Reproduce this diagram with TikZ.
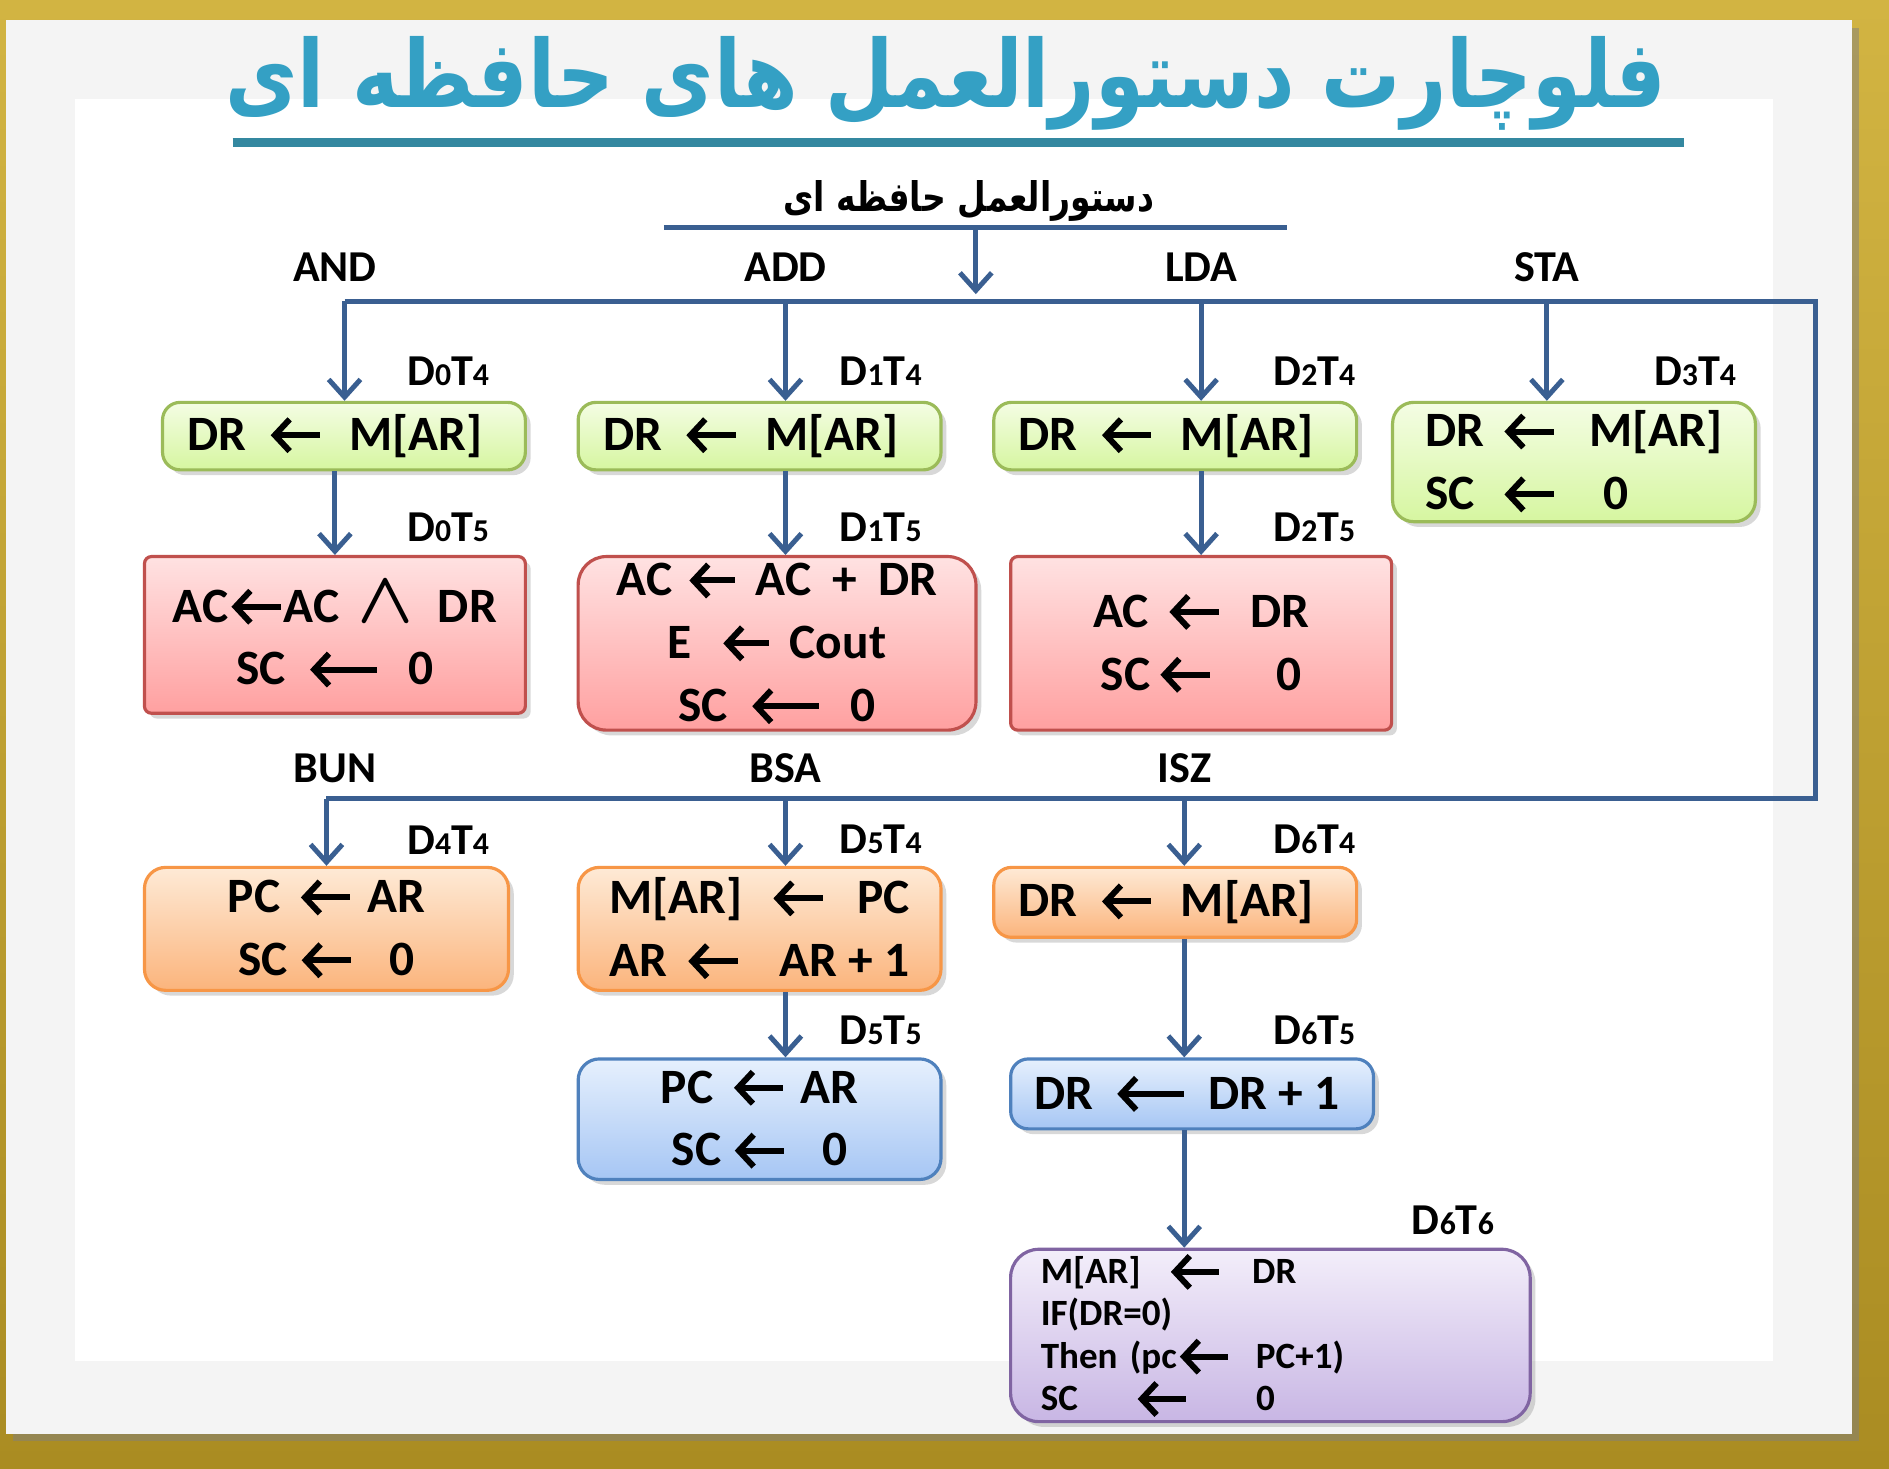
\documentclass[tikz,border=0pt]{standalone}
\usepackage{fontspec}
\usepackage{amsmath}
\usepackage{graphicx}
\setmainfont{Carlito}
\newfontfamily\arabicfont[Script=Arabic]{DejaVu Sans}
\TeXXeTstate=1
\usetikzlibrary{arrows.meta, positioning, calc, shadows}

\definecolor{linecol}{RGB}{58,95,145}
\definecolor{titlecol}{RGB}{52,160,196}
\definecolor{barcol}{RGB}{52,136,160}
\definecolor{goldA}{RGB}{210,180,66}
\definecolor{goldB}{RGB}{170,140,34}
\definecolor{panelcol}{RGB}{244,244,244}
\definecolor{grnT}{RGB}{244,253,228}\definecolor{grnB}{RGB}{214,246,160}\definecolor{grnD}{RGB}{155,187,89}
\definecolor{redT}{RGB}{255,226,226}\definecolor{redB}{RGB}{255,160,160}\definecolor{redD}{RGB}{192,80,77}
\definecolor{orgT}{RGB}{254,234,214}\definecolor{orgB}{RGB}{251,180,124}\definecolor{orgD}{RGB}{247,150,70}
\definecolor{bluT}{RGB}{230,240,253}\definecolor{bluB}{RGB}{166,198,244}\definecolor{bluD}{RGB}{79,129,189}
\definecolor{purT}{RGB}{243,238,250}\definecolor{purB}{RGB}{200,182,228}\definecolor{purD}{RGB}{128,100,162}

% 代入の矢印（長さを指定）
\newcommand{\la}[1][14pt]{\tikz[baseline=-0.31em]\draw[line width=1.7pt, {Straight Barb[length=4.2pt,width=9pt]}-] (0pt,0pt) -- (#1,0pt);}
% タイミング信号のラベル
\newcommand{\DT}[2]{D{\fontsize{9}{10}\selectfont #1}T{\fontsize{9}{10}\selectfont #2}}
\newcommand{\boxfont}{\fontsize{14}{17.8}\selectfont\bfseries}
\newcommand{\smallboxfont}{\fontsize{10.5}{12}\selectfont\bfseries}
\newcommand{\lblfont}{\fontsize{12.5}{14}\selectfont\bfseries}

\begin{document}
\begin{tikzpicture}[
    x=0.012cm, y=-0.012cm,
    % 箱の基本デザイン
    box/.style={draw, line width=0.9pt, rounded corners=4pt, inner sep=0pt, align=center, font=\boxfont,
        drop shadow={shadow xshift=1.5pt, shadow yshift=-1.5pt, opacity=0.3}},
    grnbox/.style={box, draw=grnD, top color=grnT, bottom color=grnB},
    redbox/.style={box, draw=redD, top color=redT, bottom color=redB},
    orgbox/.style={box, draw=orgD, top color=orgT, bottom color=orgB},
    blubox/.style={box, draw=bluD, top color=bluT, bottom color=bluB},
    purbox/.style={box, draw=purD, top color=purT, bottom color=purB},
    wide/.style={minimum width=3.612cm},
    lbl/.style={font=\lblfont, inner sep=0pt},
    % 線と矢印
    bus/.style={draw=linecol, line width=1.4pt},
    flow/.style={bus, -{Straight Barb[length=5pt,width=9pt]}}
]
\useasboundingbox (0,0) rectangle (1568,1219);

% 0. 背景と額縁
\shade[top color=goldA, bottom color=goldB] (0,0) rectangle (1568,1219);
\fill[panelcol, drop shadow={shadow xshift=2pt, shadow yshift=-2pt, opacity=0.5}] (5,17) rectangle (1537,1190);
\fill[white] (62,82) rectangle (1472,1130);

% 1. 表題
\node[text=titlecol, inner sep=0pt] (title) at (785,69)
    {\resizebox*{408pt}{26.6pt}{\arabicfont\bfseries\beginR فلوچارت دستورالعمل های حافظه ای\endR}};
\draw[barcol, line width=2.6pt] (193,118) -- (1398,118);
\node[inner sep=0pt] (hdrtxt) at (804,167)
    {\resizebox*{105pt}{11.6pt}{\arabicfont\bfseries\beginR دستورالعمل حافظه ای\endR}};

% 2. 分岐点の座標
\coordinate (hdrL) at (551,189);
\coordinate (hdrR) at (1068,189);
\coordinate (hdrM) at (810,189);
\coordinate (busL) at (286,250);
\coordinate (cADD) at (652,250);
\coordinate (cLDA) at (997,250);
\coordinate (cSTA) at (1284,250);
\coordinate (busR) at (1507,250);
\coordinate (bus2R) at (1507,663);
\coordinate (bus2L) at (271,663);
\coordinate (cBSA) at (652,663);
\coordinate (cISZ) at (983,663);

% 3. 命令名とタイミング
\node[lbl] (andlbl) at (278,222) {AND};
\node[lbl] (addlbl) at (652,222) {ADD};
\node[lbl] (ldalbl) at (997,222) {LDA};
\node[lbl] (stalbl) at (1284,222) {STA};
\node[lbl] (bunlbl) at (278,638) {BUN};
\node[lbl] (bsalbl) at (652,638) {BSA};
\node[lbl] (iszlbl) at (983,638) {ISZ};

\node[lbl] (t04) at (372,308) {\DT{0}{4}};
\node[lbl] (t14) at (731,308) {\DT{1}{4}};
\node[lbl] (t24) at (1091,308) {\DT{2}{4}};
\node[lbl] (t34) at (1407,308) {\DT{3}{4}};
\node[lbl] (t05) at (372,438) {\DT{0}{5}};
\node[lbl] (t15) at (731,438) {\DT{1}{5}};
\node[lbl] (t25) at (1091,438) {\DT{2}{5}};
\node[lbl] (t44) at (372,697) {\DT{4}{4}};
\node[lbl] (t54) at (731,697) {\DT{5}{4}};
\node[lbl] (t64) at (1091,697) {\DT{6}{4}};
\node[lbl] (t55) at (731,855) {\DT{5}{5}};
\node[lbl] (t65) at (1091,855) {\DT{6}{5}};
\node[lbl] (t66) at (1206,1013) {\DT{6}{6}};

% 4. マイクロ操作の箱
\node[grnbox, wide, minimum height=0.672cm, rounded corners=5pt] (g0) at (285.5,362) {DR\hspace{6pt}\la\hspace{7.5pt}M[AR]\hspace{5pt}};
\node[grnbox, wide, minimum height=0.672cm, rounded corners=5pt] (g1) at (630.5,362) {DR\hspace{6pt}\la\hspace{7.5pt}M[AR]\hspace{5pt}};
\node[grnbox, wide, minimum height=0.672cm, rounded corners=5pt] (g2) at (975.5,362) {DR\hspace{6pt}\la\hspace{7.5pt}M[AR]\hspace{5pt}};
\node[grnbox, wide, minimum height=1.188cm, rounded corners=6pt, align=left] (g3) at (1306.5,383.5)
    {\makebox[21.5pt][l]{DR}\la\hspace{9.2pt}M[AR]\hspace{3pt}\\\makebox[21.5pt][l]{SC}\la\hspace{13.3pt}0};

\node[redbox, minimum width=3.792cm, minimum height=1.56cm, rounded corners=2pt] (r0) at (278,527)
    {AC\la AC\hspace{5pt}{\fontsize{20}{17}\selectfont$\boldsymbol{\wedge}$}\hspace{7pt}DR\\
     SC\hspace{6pt}\la[19pt]\hspace{8pt}0};
\node[redbox, minimum width=3.96cm, minimum height=1.728cm, rounded corners=8pt] (r1) at (645,534)
    {AC\hspace{4pt}\la[13pt]\hspace{5pt}AC\hspace{6pt}+\hspace{6pt}DR\\
     E\hspace{8pt}\la[13pt]\hspace{5pt}Cout\\
     SC\hspace{6pt}\la[19pt]\hspace{8pt}0};
\node[redbox, minimum width=3.792cm, minimum height=1.728cm, rounded corners=2pt] (r2) at (997,534)
    {AC\hspace{5pt}\la\hspace{8pt}DR\\SC\hspace{2pt}\la\hspace{18pt}0};

\node[orgbox, minimum width=3.624cm, minimum height=1.224cm, rounded corners=6pt] (o0) at (271,771)
    {PC\hspace{5pt}\la\hspace{4pt}AR\\SC\hspace{3pt}\la\hspace{10pt}0};
\node[orgbox, wide, minimum height=1.224cm, rounded corners=6pt] (o1) at (630.5,771)
    {M[AR]\hspace{8pt}\la\hspace{9pt}PC\\AR\hspace{5pt}\la\hspace{11pt}AR + 1};
\node[orgbox, wide, minimum height=0.696cm, rounded corners=5pt] (o2) at (975.5,749) {DR\hspace{6pt}\la\hspace{7.5pt}M[AR]\hspace{5pt}};

\node[blubox, wide, minimum height=1.2cm, rounded corners=6pt] (b1) at (630.5,929)
    {PC\hspace{5pt}\la\hspace{4pt}AR\\SC\hspace{3pt}\la\hspace{10pt}0};
\node[blubox, wide, minimum height=0.696cm, rounded corners=5pt] (b2) at (989.5,908) {DR\hspace{6pt}\la[19pt]\hspace{6pt}DR + 1\hspace{3pt}};

\node[purbox, minimum width=5.172cm, minimum height=1.716cm, rounded corners=8pt, font=\smallboxfont, align=left,
      text width=4.572cm, inner xsep=0.3cm] (p) at (1054.5,1108.5)
    {\makebox[36pt][l]{M[AR]}\la[13.7pt]\hspace{8.5pt}DR\\
     IF(DR=0)\\
     Then (pc\la[13.7pt]\hspace{7pt}PC+1)\\
     \makebox[26.6pt][l]{SC}\la[13.7pt]\hspace{19pt}0};

% 5. 線で結ぶ
\draw[bus] (hdrL) -- (hdrR);
\draw[flow, shorten >=2pt] (hdrM) -- (hdrM |- busL);
\draw[bus] (busL) -- (busR) -- (bus2R) -- (bus2L);

\draw[flow] (busL) -- (busL |- g0.north);
\draw[flow] (cADD) -- (cADD |- g1.north);
\draw[flow] (cLDA) -- (cLDA |- g2.north);
\draw[flow] (cSTA) -- (cSTA |- g3.north);
\draw[flow] (r0.north |- g0.south) -- (r0.north);
\draw[flow] (cADD |- g1.south) -- (cADD |- r1.north);
\draw[flow] (cLDA |- g2.south) -- (cLDA |- r2.north);

\draw[flow] (bus2L) -- (bus2L |- o0.north);
\draw[flow] (cBSA) -- (cBSA |- o1.north);
\draw[flow] (cISZ) -- (cISZ |- o2.north);
\draw[flow] (cBSA |- o1.south) -- (cBSA |- b1.north);
\draw[flow] (cISZ |- o2.south) -- (cISZ |- b2.north);
\draw[flow] (cISZ |- b2.south) -- (cISZ |- p.north);

\end{tikzpicture}
\end{document}
